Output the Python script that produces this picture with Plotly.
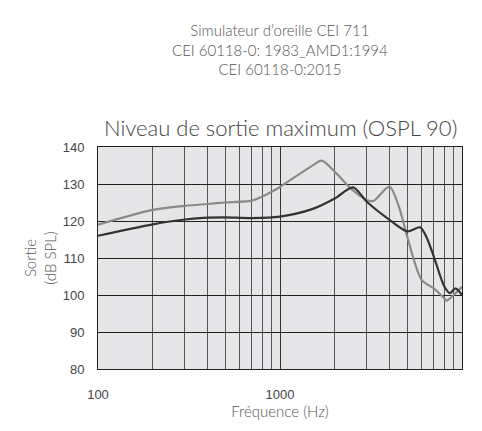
import plotly.graph_objects as go

# CEI 60118-0:1983 (dark) and 2015 (grey) curves
freq_dark = [100, 200, 300, 400, 500, 700, 1000, 1500, 2000, 2520, 3000, 4000, 5000, 5880, 6400, 7000, 8000, 8590, 9200, 10000]
ospl_dark = [116.0, 119.1, 120.4, 120.9, 121.0, 120.8, 121.2, 123.2, 126.1, 129.1, 125.2, 120.3, 117.2, 118.3, 115.5, 110.4, 102.3, 100.5, 101.8, 100.0]

freq_grey = [100, 200, 300, 400, 500, 700, 800, 900, 1000, 1500, 1700, 2000, 2500, 3000, 3260, 3990, 4500, 5000, 6000, 7000, 8000, 8240, 9000, 10000]
ospl_grey = [119.0, 123.0, 124.1, 124.6, 125.0, 125.5, 126.6, 127.9, 129.2, 134.9, 136.3, 133.3, 128.4, 125.7, 125.4, 129.3, 123.9, 115.8, 104.1, 101.8, 99.1, 98.5, 100.0, 102.2]

major_ticks = [100, 1000, 10000]
minor_ticks = [m * d for d in (100, 1000) for m in range(2, 10)]

header = "Simulateur d’oreille CEI 711<br>CEI 60118-0: 1983_AMD1:1994<br>CEI 60118-0:2015"
title = "Niveau de sortie maximum (OSPL 90)"
txt_font = 'Lato, Open Sans, sans-serif'

fig = go.Figure()
fig.add_trace(go.Scatter(x=freq_grey, y=ospl_grey, mode='lines', line=dict(color='#8a8a8a', width=2.2, shape='spline', smoothing=0.8), name='CEI 60118-0:2015'))
fig.add_trace(go.Scatter(x=freq_dark, y=ospl_dark, mode='lines', line=dict(color='#333333', width=2.2, shape='spline', smoothing=0.8), name='CEI 60118-0:1983'))

# page body has an 8px margin, so the figure is made smaller to avoid scrollbars
fig.add_annotation(text=header, xref='paper', yref='paper', x=0.5, y=1.0, yanchor='bottom', yshift=67,
                   showarrow=False, align='center', font=dict(family=txt_font, size=15, color='#555555', weight=300))
fig.add_annotation(text=title, xref='paper', yref='paper', x=0.5, y=1.0, yanchor='bottom', yshift=4,
                   showarrow=False, font=dict(family=txt_font, size=22, color='#444444', weight=300))

fig.update_layout(
    width=466, height=415,
    margin=dict(l=90, r=12, t=139, b=54),
    plot_bgcolor='#e6e6e8', paper_bgcolor='white',
    showlegend=False,
    font=dict(family='Liberation Sans, Arial, sans-serif', size=13, color='#444444'),
)
fig.update_xaxes(type='log', range=[2, 4], tickmode='array', tickvals=major_ticks, ticktext=['100', '1000', '10000'],
                 showgrid=True, gridcolor='#333333', gridwidth=1,
                 minor=dict(tickmode='array', tickvals=minor_ticks, showgrid=True, gridcolor='#555555', gridwidth=1, ticklen=0),
                 showline=True, linecolor='#222222', linewidth=1, mirror=True, ticks='', ticklabelstandoff=13,
                 title=dict(text='Fréquence (Hz)', font=dict(family=txt_font, size=15, color='#555555', weight=300), standoff=4),
                 zeroline=False, automargin=False)
fig.update_yaxes(range=[80, 140], dtick=10, showgrid=True, gridcolor='#222222', gridwidth=1,
                 showline=True, linecolor='#222222', linewidth=1, mirror=True, ticks='', ticklabelstandoff=10,
                 title=dict(text='Sortie<br>(dB SPL)', font=dict(family=txt_font, size=15, color='#555555', weight=300), standoff=2),
                 zeroline=False, automargin=False)

fig.write_html("out.html")
